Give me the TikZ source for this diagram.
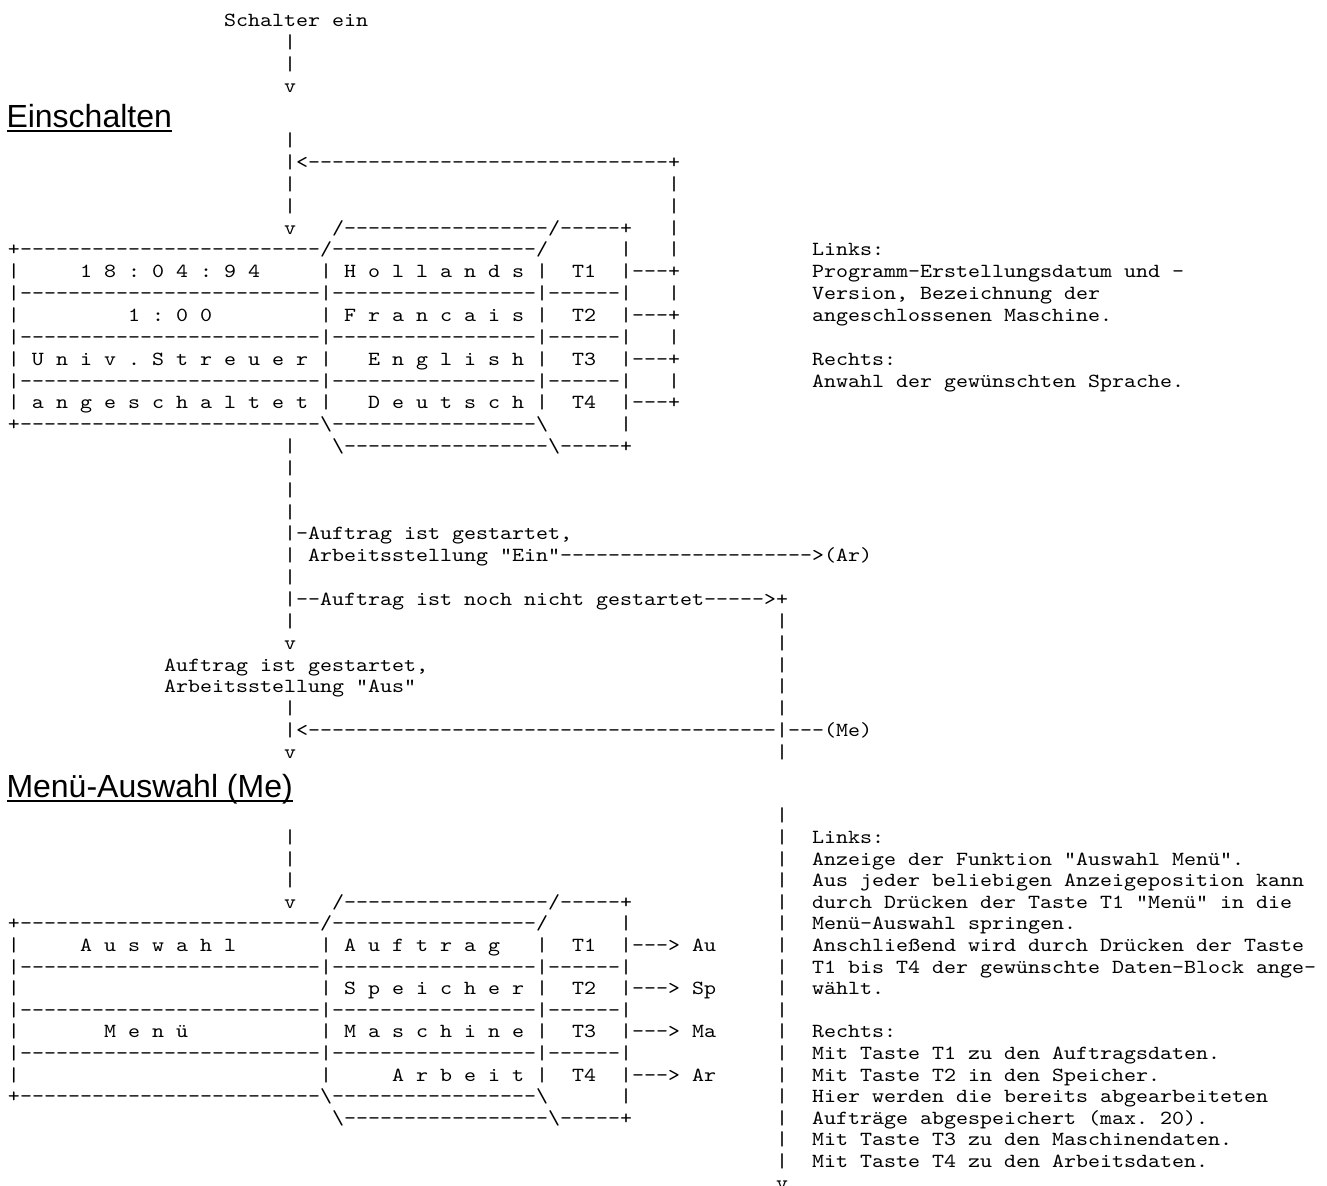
\documentclass[tikz,border=0pt]{standalone}
\usepackage{fontspec}
\setmonofont{Latin Modern Mono}[FakeStretch=1.1429]
\newfontfamily\headfont{Liberation Sans}
\ExplSyntaxOn
\NewDocumentCommand\reprt{mm}{\prg_replicate:nn{#1}{#2}}
\ExplSyntaxOff
\frenchspacing
\tikzset{
  asc/.style={font=\ttfamily\fontsize{10pt}{10pt}\selectfont\frenchspacing, inner sep=0pt, outer sep=0pt, anchor=base west},
  head/.style={font=\headfont\fontsize{16pt}{16pt}\selectfont, inner sep=0pt, outer sep=0pt, anchor=base west},
  uline/.style={line width=1.25pt}
}
% top section, absolute y (pixels, line centre)
\newcommand\ascT[4]{\node[asc] (#1) at ({8+12*#2},{#3+5.5}) {#4};}
% section 1 grid
\newcommand\ascA[4]{\node[asc] (#1) at ({8+12*#2},{163+21.85*#3+5.5}) {#4};}
% section 2 grid
\newcommand\ascB[4]{\node[asc] (#1) at ({8+12*#2},{838+21.6*#3+5.5}) {#4};}
\newcommand\bs{\textbackslash}
\begin{document}
\begin{tikzpicture}[x=0.5pt,y=-0.5pt]
\fill[white] (0,0) rectangle (1327,1185);
\useasboundingbox (0,0) rectangle (1327,1185);

% ---------------- top ----------------
\ascT{t1}{18}{21}{Schalter ein}
\ascT{t2}{23}{43}{|}
\ascT{t3}{23}{65}{|}
\ascT{t4}{23}{87}{v}
\node[head] (h1) at (6.5,127) {Einschalten};
\draw[uline] ([yshift=-2pt]h1.base west) -- ([yshift=-2pt]h1.base east);
\ascT{t5}{23}{141}{|}

% ---------------- section 1 ----------------
\ascA{a0c23}{23}{0}{|<\reprt{30}{-}+}
\ascA{a1c23}{23}{1}{|}
\ascA{a1c55}{55}{1}{|}
\ascA{a2c23}{23}{2}{|}
\ascA{a2c55}{55}{2}{|}
\ascA{a3c23}{23}{3}{v}
\ascA{a3c27}{27}{3}{/\reprt{17}{-}/\reprt{5}{-}+}
\ascA{a3c55}{55}{3}{|}
\ascA{a4c0}{0}{4}{+\reprt{25}{-}/\reprt{17}{-}/}
\ascA{a4c51}{51}{4}{|}
\ascA{a4c55}{55}{4}{|}
\ascA{a4c67}{67}{4}{Links:}
% row 1
\ascA{a5c0}{0}{5}{|}
\ascA{a5c6}{6}{5}{1 8 : 0 4 : 9 4}
\ascA{a5c26}{26}{5}{|}
\ascA{a5c28}{28}{5}{H o l l a n d s}
\ascA{a5c44}{44}{5}{|}
\ascA{a5c47}{47}{5}{T1}
\ascA{a5c51}{51}{5}{|---+}
\ascA{a5c67}{67}{5}{Programm-Erstellungsdatum und -}
\ascA{a6c0}{0}{6}{|\reprt{25}{-}|\reprt{17}{-}|\reprt{6}{-}|}
\ascA{a6c55}{55}{6}{|}
\ascA{a6c67}{67}{6}{Version, Bezeichnung der}
% row 2
\ascA{a7c0}{0}{7}{|}
\ascA{a7c10}{10}{7}{1 : 0 0}
\ascA{a7c26}{26}{7}{|}
\ascA{a7c28}{28}{7}{F r a n c a i s}
\ascA{a7c44}{44}{7}{|}
\ascA{a7c47}{47}{7}{T2}
\ascA{a7c51}{51}{7}{|---+}
\ascA{a7c67}{67}{7}{angeschlossenen Maschine.}
\ascA{a8c0}{0}{8}{|\reprt{25}{-}|\reprt{17}{-}|\reprt{6}{-}|}
\ascA{a8c55}{55}{8}{|}
% row 3
\ascA{a9c0}{0}{9}{|}
\ascA{a9c2}{2}{9}{U n i v . S t r e u e r}
\ascA{a9c26}{26}{9}{|}
\ascA{a9c30}{30}{9}{E n g l i s h}
\ascA{a9c44}{44}{9}{|}
\ascA{a9c47}{47}{9}{T3}
\ascA{a9c51}{51}{9}{|---+}
\ascA{a9c67}{67}{9}{Rechts:}
\ascA{a10c0}{0}{10}{|\reprt{25}{-}|\reprt{17}{-}|\reprt{6}{-}|}
\ascA{a10c55}{55}{10}{|}
\ascA{a10c67}{67}{10}{Anwahl der gewünschten Sprache.}
% row 4
\ascA{a11c0}{0}{11}{|}
\ascA{a11c2}{2}{11}{a n g e s c h a l t e t}
\ascA{a11c26}{26}{11}{|}
\ascA{a11c30}{30}{11}{D e u t s c h}
\ascA{a11c44}{44}{11}{|}
\ascA{a11c47}{47}{11}{T4}
\ascA{a11c51}{51}{11}{|---+}
\ascA{a12c0}{0}{12}{+\reprt{25}{-}\bs\reprt{17}{-}\bs}
\ascA{a12c51}{51}{12}{|}
\ascA{a13c23}{23}{13}{|}
\ascA{a13c27}{27}{13}{\bs\reprt{17}{-}\bs\reprt{5}{-}+}
\ascA{a14c23}{23}{14}{|}
\ascA{a15c23}{23}{15}{|}
\ascA{a16c23}{23}{16}{|}
\ascA{a17c23}{23}{17}{|-Auftrag ist gestartet,}
\ascA{a18c23}{23}{18}{|}
\ascA{a18c25}{25}{18}{Arbeitsstellung "Ein"\reprt{21}{-}>(Ar)}
\ascA{a19c23}{23}{19}{|}
\ascA{a20c23}{23}{20}{|--Auftrag ist noch nicht gestartet----->+}
\ascA{a21c23}{23}{21}{|}
\ascA{a21c64}{64}{21}{|}
\ascA{a22c23}{23}{22}{v}
\ascA{a22c64}{64}{22}{|}
\ascA{a23c13}{13}{23}{Auftrag ist gestartet,}
\ascA{a23c64}{64}{23}{|}
\ascA{a24c13}{13}{24}{Arbeitsstellung "Aus"}
\ascA{a24c64}{64}{24}{|}
\ascA{a25c23}{23}{25}{|}
\ascA{a25c64}{64}{25}{|}
\ascA{a26c23}{23}{26}{|<\reprt{39}{-}|---(Me)}
\ascA{a27c23}{23}{27}{v}
\ascA{a27c64}{64}{27}{|}

% ---------------- section 2 ----------------
\node[head] (h2) at (6.5,797) {Menü-Auswahl (Me)};
\draw[uline] ([yshift=-2pt]h2.base west) -- ([yshift=-2pt]h2.base east);
\ascT{bm1c64}{64}{816.4}{|}
\ascB{b0c23}{23}{0}{|}
\ascB{b0c64}{64}{0}{|}
\ascB{b0c67}{67}{0}{Links:}
\ascB{b1c23}{23}{1}{|}
\ascB{b1c64}{64}{1}{|}
\ascB{b1c67}{67}{1}{Anzeige der Funktion "Auswahl Menü".}
\ascB{b2c23}{23}{2}{|}
\ascB{b2c64}{64}{2}{|}
\ascB{b2c67}{67}{2}{Aus jeder beliebigen Anzeigeposition kann}
\ascB{b3c23}{23}{3}{v}
\ascB{b3c27}{27}{3}{/\reprt{17}{-}/\reprt{5}{-}+}
\ascB{b3c64}{64}{3}{|}
\ascB{b3c67}{67}{3}{durch Drücken der Taste T1 "Menü" in die}
\ascB{b4c0}{0}{4}{+\reprt{25}{-}/\reprt{17}{-}/}
\ascB{b4c51}{51}{4}{|}
\ascB{b4c64}{64}{4}{|}
\ascB{b4c67}{67}{4}{Menü-Auswahl springen.}
% row 1
\ascB{b5c0}{0}{5}{|}
\ascB{b5c6}{6}{5}{A u s w a h l}
\ascB{b5c26}{26}{5}{|}
\ascB{b5c28}{28}{5}{A u f t r a g}
\ascB{b5c44}{44}{5}{|}
\ascB{b5c47}{47}{5}{T1}
\ascB{b5c51}{51}{5}{|---> Au}
\ascB{b5c64}{64}{5}{|}
\ascB{b5c67}{67}{5}{Anschließend wird durch Drücken der Taste}
\ascB{b6c0}{0}{6}{|\reprt{25}{-}|\reprt{17}{-}|\reprt{6}{-}|}
\ascB{b6c64}{64}{6}{|}
\ascB{b6c67}{67}{6}{T1 bis T4 der gewünschte Daten-Block ange-}
% row 2
\ascB{b7c0}{0}{7}{|}
\ascB{b7c26}{26}{7}{|}
\ascB{b7c28}{28}{7}{S p e i c h e r}
\ascB{b7c44}{44}{7}{|}
\ascB{b7c47}{47}{7}{T2}
\ascB{b7c51}{51}{7}{|---> Sp}
\ascB{b7c64}{64}{7}{|}
\ascB{b7c67}{67}{7}{wählt.}
\ascB{b8c0}{0}{8}{|\reprt{25}{-}|\reprt{17}{-}|\reprt{6}{-}|}
\ascB{b8c64}{64}{8}{|}
% row 3
\ascB{b9c0}{0}{9}{|}
\ascB{b9c8}{8}{9}{M e n ü}
\ascB{b9c26}{26}{9}{|}
\ascB{b9c28}{28}{9}{M a s c h i n e}
\ascB{b9c44}{44}{9}{|}
\ascB{b9c47}{47}{9}{T3}
\ascB{b9c51}{51}{9}{|---> Ma}
\ascB{b9c64}{64}{9}{|}
\ascB{b9c67}{67}{9}{Rechts:}
\ascB{b10c0}{0}{10}{|\reprt{25}{-}|\reprt{17}{-}|\reprt{6}{-}|}
\ascB{b10c64}{64}{10}{|}
\ascB{b10c67}{67}{10}{Mit Taste T1 zu den Auftragsdaten.}
% row 4
\ascB{b11c0}{0}{11}{|}
\ascB{b11c26}{26}{11}{|}
\ascB{b11c32}{32}{11}{A r b e i t}
\ascB{b11c44}{44}{11}{|}
\ascB{b11c47}{47}{11}{T4}
\ascB{b11c51}{51}{11}{|---> Ar}
\ascB{b11c64}{64}{11}{|}
\ascB{b11c67}{67}{11}{Mit Taste T2 in den Speicher.}
\ascB{b12c0}{0}{12}{+\reprt{25}{-}\bs\reprt{17}{-}\bs}
\ascB{b12c51}{51}{12}{|}
\ascB{b12c64}{64}{12}{|}
\ascB{b12c67}{67}{12}{Hier werden die bereits abgearbeiteten}
\ascB{b13c27}{27}{13}{\bs\reprt{17}{-}\bs\reprt{5}{-}+}
\ascB{b13c64}{64}{13}{|}
\ascB{b13c67}{67}{13}{Aufträge abgespeichert (max. 20).}
\ascB{b14c64}{64}{14}{|}
\ascB{b14c67}{67}{14}{Mit Taste T3 zu den Maschinendaten.}
\ascB{b15c64}{64}{15}{|}
\ascB{b15c67}{67}{15}{Mit Taste T4 zu den Arbeitsdaten.}
\ascB{b16c64}{64}{16}{v}
\end{tikzpicture}
\end{document}
